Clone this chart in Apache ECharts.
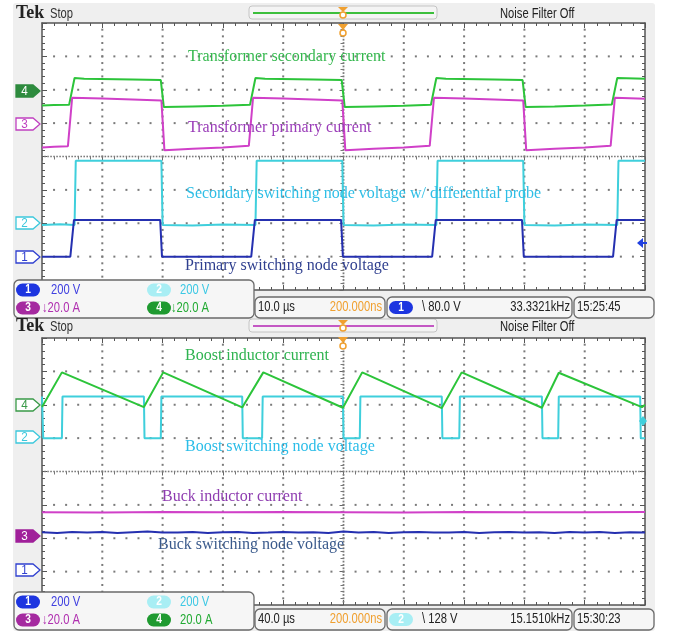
<!DOCTYPE html>
<html>
<head>
<meta charset="utf-8">
<script src="https://cdn.jsdelivr.net/npm/echarts@6/dist/echarts.min.js"></script>
<style>
  html, body { margin: 0; padding: 0; background: #fff; }
  .wrap { position: relative; width: 673px; height: 633px; }
  .screen { position: absolute; left: 13px; top: 3px; width: 642px; height: 628px; background: #efefef; border-radius: 3px; }
  .plot { position: absolute; left: 42px; width: 603px; height: 267px; background: #fff; }
  #chart { position: absolute; left: 0; top: 0; width: 673px; height: 633px; }
</style>
</head>
<body>
<div class="wrap">
  <div class="screen"></div>
  <div class="plot" style="top:23px"></div>
  <div class="plot" style="top:338px"></div>
  <div id="chart"></div>
</div>
<script>
// values are in scope divisions: x -5..5 (10 div), y -4..4 (8 div)
const divX = [-4, -3, -2, -1, 1, 2, 3, 4];
const divY = [-3, -2, -1, 1, 2, 3];

// top capture, 10 us/div
const secCurrent = [[-5.0,1.53],[-4.8,1.54],[-4.55,1.55],[-4.46,2.35],[-4.3,2.33],[-3.5,2.31],[-3.03,2.29],[-2.98,1.48],[-2.5,1.50],[-2.0,1.52],[-1.55,1.55],[-1.46,2.35],[-1.3,2.33],[-0.5,2.31],[-0.03,2.29],[0.02,1.48],[0.5,1.50],[1.0,1.52],[1.45,1.55],[1.54,2.35],[1.7,2.33],[2.5,2.31],[2.97,2.29],[3.02,1.48],[3.5,1.50],[4.0,1.53],[4.45,1.56],[4.54,2.35],[5.0,2.33]];
const primCurrent = [[-5.0,0.27],[-4.8,0.29],[-4.57,0.31],[-4.5,1.76],[-4.0,1.74],[-3.5,1.71],[-3.02,1.68],[-2.97,0.19],[-2.5,0.23],[-2.0,0.27],[-1.57,0.32],[-1.5,1.76],[-1.0,1.74],[-0.5,1.71],[-0.02,1.68],[0.03,0.19],[0.5,0.23],[1.0,0.27],[1.43,0.32],[1.5,1.76],[2.0,1.74],[2.5,1.71],[2.98,1.68],[3.03,0.19],[3.5,0.23],[4.0,0.27],[4.43,0.32],[4.5,1.76],[5.0,1.73]];
const secNode = [[-5.0,-2.05],[-4.7,-2.03],[-4.46,-2.05],[-4.44,-0.13],[-3.02,-0.13],[-3.0,-2.05],[-2.5,-2.07],[-2.0,-2.04],[-1.46,-2.05],[-1.44,-0.13],[-0.02,-0.13],[0.0,-2.05],[0.5,-2.07],[1.0,-2.04],[1.54,-2.05],[1.56,-0.13],[2.98,-0.13],[3.0,-2.05],[3.5,-2.07],[4.0,-2.04],[4.54,-2.05],[4.56,-0.13],[5.0,-0.13]];
const primNode = [[-5.0,-3.0],[-4.53,-3.0],[-4.47,-1.9],[-3.04,-1.9],[-3.01,-3.0],[-1.53,-3.0],[-1.47,-1.9],[-0.04,-1.9],[-0.01,-3.0],[1.47,-3.0],[1.53,-1.9],[2.96,-1.9],[2.99,-3.0],[4.47,-3.0],[4.53,-1.9],[5.0,-1.9]];

// bottom capture, 40 us/div
const boostCurrent = [[-5.0,1.93],[-4.67,2.97],[-3.31,1.93],[-2.99,2.97],[-1.68,1.92],[-1.33,2.97],[-0.01,1.91],[0.31,2.97],[1.63,1.90],[1.96,2.97],[3.29,1.91],[3.57,2.96],[4.95,1.93],[5.0,2.0]];
const boostNode = [[-5.0,2.25],[-4.98,1.0],[-4.67,1.0],[-4.66,2.25],[-3.31,2.25],[-3.30,1.0],[-3.03,1.0],[-3.02,2.25],[-1.68,2.25],[-1.67,1.0],[-1.35,1.0],[-1.34,2.25],[-0.01,2.25],[0.0,1.0],[0.27,1.0],[0.28,2.25],[1.63,2.25],[1.64,1.0],[1.92,1.0],[1.93,2.25],[3.29,2.25],[3.30,1.0],[3.56,1.0],[3.57,2.25],[4.92,2.25],[4.93,1.0],[5.0,1.0]];
const buckCurrent = [[-5,-1.22],[-4,-1.23],[-3,-1.21],[-2,-1.22],[-1,-1.21],[0,-1.22],[1,-1.23],[2,-1.21],[3,-1.22],[4,-1.22],[5,-1.21]];
const buckNodeT = [-5,-4.75,-4.5,-4.25,-4,-3.75,-3.5,-3.25,-3,-2.75,-2.5,-2.25,-2,-1.75,-1.5,-1.25,-1,-0.75,-0.5,-0.25,0,0.25,0.5,0.75,1,1.25,1.5,1.75,2,2.25,2.5,2.75,3,3.25,3.5,3.75,4,4.25,4.5,4.75,5];
const buckNodeV = [-1.82,-1.84,-1.81,-1.83,-1.81,-1.84,-1.82,-1.80,-1.83,-1.83,-1.81,-1.84,-1.82,-1.81,-1.84,-1.83,-1.81,-1.83,-1.82,-1.84,-1.80,-1.83,-1.81,-1.84,-1.82,-1.81,-1.83,-1.83,-1.81,-1.84,-1.82,-1.81,-1.83,-1.82,-1.84,-1.81,-1.83,-1.81,-1.84,-1.82,-1.83];

const C_GREEN = '#2cc43a';
const C_MAG = '#d040c8';
const C_CYAN = '#3fcfdc';
const C_BLUE = '#2530b0';
const C_DOT = '#7a7a7a';

const SERIF = '"Liberation Serif", "DejaVu Serif", serif';
const SANS = '"Liberation Sans", Arial, sans-serif';

const PANELS = [
  { left: 42, top: 23, width: 603, height: 267 },
  { left: 42, top: 338, width: 603, height: 267 }
];

const chart = echarts.init(document.getElementById('chart'), null, { renderer: 'canvas' });

// graticule axes (border ticks)
const borderAxis = (gi, pos, isX) => ({
  type: 'value', gridIndex: gi, position: pos, min: isX ? -5 : -4, max: isX ? 5 : 4, interval: 1,
  axisLine: { onZero: false, lineStyle: { color: '#555', width: 1.5 } },
  axisTick: { inside: true, length: 5, lineStyle: { color: '#555' } },
  minorTick: { show: true, splitNumber: 5, length: 3, lineStyle: { color: '#555' } },
  axisLabel: { show: false },
  splitLine: { show: false }
});
// centre crosshair ticks
const centerAxis = (gi, isX) => ({
  type: 'value', gridIndex: gi, min: isX ? -5 : -4, max: isX ? 5 : 4, interval: 1,
  axisLine: { show: false, onZero: true },
  axisTick: { show: true, length: 4, lineStyle: { color: '#666' } },
  minorTick: { show: true, splitNumber: 5, length: 3, lineStyle: { color: '#777' } },
  axisLabel: { show: false },
  splitLine: { show: false }
});

// dotted graticule lines: tiny square symbols on an invisible line, one per minor step
const dotRow = (pts, axis, size) => ({
  type: 'line', data: pts, xAxisIndex: axis, yAxisIndex: axis,
  showSymbol: true, showAllSymbol: true, symbol: 'rect', symbolSize: size,
  itemStyle: { color: C_DOT }, lineStyle: { width: 0, opacity: 0 },
  animation: false, silent: true, z: 4
});
const steps = (from, to, step) => {
  const out = [];
  for (let v = from; v <= to + 1e-9; v += step) out.push(+v.toFixed(3));
  return out;
};
const graticule = (axis) => [
  ...divX.map(v => dotRow(steps(-3.8, 3.8, 0.2).map(y => [v, y]), axis, 2)),
  ...divY.map(v => dotRow(steps(-4.8, 4.8, 0.2).map(x => [x, v]), axis, 2)),
  dotRow(steps(-3.9, 3.9, 0.1).map(y => [0, y]), axis, 1.8),
  dotRow(steps(-4.95, 4.95, 0.05).map(x => [x, 0]), axis, 1.6)
];

const trace = (data, color, axis) => ({
  type: 'line', data: data, xAxisIndex: axis, yAxisIndex: axis,
  showSymbol: false, symbol: 'none', animation: false, silent: true,
  lineStyle: { color: color, width: 2 }, z: 5
});

// --- decorations ---
// text, optionally squeezed horizontally (scope font is condensed)
const T = (x, y, text, color, font, align, z, sx) => ({
  type: 'text', z: z || 60, x: x, y: y, scaleX: sx || 1,
  style: { text: text, x: 0, y: 0, fill: color, font: font, align: align || 'left', verticalAlign: 'middle',
    textAlign: align || 'left', textVerticalAlign: 'middle' }
});
const N = (x, y, text, color, align) => T(x, y, text, color, '14px ' + SANS, align, 62, 0.8);
const pill = (x, y, label, fill) => [
  { type: 'rect', z: 61, shape: { x: x, y: y - 6.5, width: 24, height: 13, r: 6.5 }, style: { fill: fill } },
  T(x + 12, y, label, '#fff', 'bold 12px ' + SANS, 'center', 62, 0.85)
];
const box = (x, y, w, h) => ({
  type: 'rect', z: 58, shape: { x: x, y: y, width: w, height: h, r: 5 },
  style: { fill: '#f6f6f6', stroke: '#6a6a6a', lineWidth: 1.3 }
});
const marker = (label, yc, color, filled) => [
  { type: 'polygon', z: 50, shape: { points: [[16, yc - 6], [33, yc - 6], [40, yc], [33, yc + 6], [16, yc + 6]] },
    style: { fill: filled ? color : '#fff', stroke: color, lineWidth: 1.3 } },
  T(24.5, yc + 0.5, label, filled ? '#fff' : color, '13px ' + SANS, 'center', 51, 0.9)
];
const header = (y, lineColor) => [
  T(16, y, 'Tek', '#222', 'bold 18px ' + SERIF),
  N(50, y + 1, 'Stop', '#333'),
  { type: 'rect', z: 55, shape: { x: 249, y: y - 7, width: 188, height: 13, r: 3 }, style: { fill: '#f4f4f4', stroke: '#c4c4c4', lineWidth: 1 } },
  { type: 'line', z: 56, shape: { x1: 253, y1: y, x2: 434, y2: y }, style: { stroke: lineColor, lineWidth: 2 } },
  { type: 'polygon', z: 57, shape: { points: [[338, y - 6], [348, y - 6], [343, y - 1]] }, style: { fill: '#f0a030' } },
  { type: 'circle', z: 57, shape: { cx: 343, cy: y + 2, r: 3 }, style: { fill: '#fff', stroke: '#f0a030', lineWidth: 1.5 } },
  { type: 'polygon', z: 57, shape: { points: [[338, y + 11], [348, y + 11], [343, y + 17]] }, style: { fill: '#f0a030' } },
  { type: 'circle', z: 57, shape: { cx: 343, cy: y + 20, r: 3 }, style: { fill: '#fff', stroke: '#f0a030', lineWidth: 1.5 } },
  N(500, y + 1, 'Noise Filter Off', '#222')
];
const status = (yTop, rows, tb, tdiv, trig, freq, clock, c2p, c4text) => {
  const r1 = rows[0], r2 = rows[1], m = tb + 10.5;
  return [
    box(14, yTop, 240, 38),
    ...pill(16, r1, '1', '#1d35e0'), N(51, r1, '200 V', '#4040e0'),
    ...pill(147, r1, '2', '#a8eef4'), N(180, r1, '200 V', '#3cc8e4'),
    ...pill(16, r2, '3', '#a52aa0'), N(42, r2, '\u219320.0 A', '#b030b0'),
    ...pill(147, r2, '4', '#1f9a30'), N(c4text[0], r2, c4text[1], '#22aa33'),
    box(255, tb, 130, 21),
    N(258, m, tdiv, '#222'),
    N(382, m, '200.000ns', '#f0a030', 'right'),
    box(387, tb, 185, 21),
    ...pill(389, m, c2p[0], c2p[1]),
    N(422, m, '\\ ' + trig, '#222'),
    N(570, m, freq, '#222', 'right'),
    box(574, tb, 80, 21),
    N(577, m, clock, '#222')
  ];
};

const graphics = [
  ...header(13, '#3cbf3c'),
  ...header(326, '#c458c4'),
  // waveform labels
  T(188, 57, 'Transformer secondary current', '#35b84e', '16px ' + SERIF),
  T(188, 128, 'Transformer primary current', '#9a3cb8', '16px ' + SERIF),
  T(186, 194, 'Secondary switching node voltage w/ differential probe', '#2ebee6', '16px ' + SERIF),
  T(185, 266, 'Primary switching node voltage', '#2f3f8f', '16px ' + SERIF),
  T(185, 356, 'Boost inductor current', '#2fb350', '16px ' + SERIF),
  T(185, 447, 'Boost switching node voltage', '#2bbde8', '16px ' + SERIF),
  T(162, 497, 'Buck inductor current', '#8e3cb0', '16px ' + SERIF),
  T(158, 545, 'Buck switching node voltage', '#3a5a8c', '16px ' + SERIF),
  // channel markers
  ...marker('4', 91, '#2e8b3e', true),
  ...marker('3', 124, '#c040c0', false),
  ...marker('2', 223, '#3cc8dc', false),
  ...marker('1', 257, '#3040d0', false),
  ...marker('4', 405, '#3a9a48', false),
  ...marker('2', 437, '#3cc8dc', false),
  ...marker('3', 536, '#a0209a', true),
  ...marker('1', 570, '#3040d0', false),
  // trigger level markers
  { type: 'polygon', z: 50, shape: { points: [[637, 243], [643, 238], [643, 248]] }, style: { fill: '#2040e0' } },
  { type: 'line', z: 50, shape: { x1: 642, y1: 243, x2: 647, y2: 243 }, style: { stroke: '#2040e0', lineWidth: 2 } },
  { type: 'polygon', z: 50, shape: { points: [[643, 416], [647, 421], [643, 426], [639, 421]] }, style: { fill: '#3fcfdc' } },
  // status bars
  ...status(280, [290, 308], 297, '10.0 \u00b5s', '80.0 V', '33.3321kHz', '15:25:45', ['1', '#1d35e0'], [171, '\u219320.0 A']),
  ...status(592, [602, 620], 609, '40.0 \u00b5s', '128 V', '15.1510kHz', '15:30:23', ['2', '#a8eef4'], [180, '20.0 A'])
];

chart.setOption({
  backgroundColor: 'transparent',
  animation: false,
  grid: [
    Object.assign({}, PANELS[0]),
    Object.assign({}, PANELS[0]),
    Object.assign({}, PANELS[1]),
    Object.assign({}, PANELS[1])
  ],
  xAxis: [
    borderAxis(0, 'bottom', true), borderAxis(0, 'top', true), centerAxis(1, true),
    borderAxis(2, 'bottom', true), borderAxis(2, 'top', true), centerAxis(3, true)
  ],
  yAxis: [
    borderAxis(0, 'left', false), borderAxis(0, 'right', false), centerAxis(1, false),
    borderAxis(2, 'left', false), borderAxis(2, 'right', false), centerAxis(3, false)
  ],
  series: [
    ...graticule(0),
    trace(secCurrent, C_GREEN, 0),
    trace(primCurrent, C_MAG, 0),
    trace(secNode, C_CYAN, 0),
    trace(primNode, C_BLUE, 0),
    ...graticule(3),
    trace(boostNode, C_CYAN, 3),
    trace(boostCurrent, C_GREEN, 3),
    trace(buckCurrent, C_MAG, 3),
    trace(buckNodeT.map((t, i) => [t, buckNodeV[i]]), C_BLUE, 3)
  ],
  graphic: graphics
});
</script>
</body>
</html>
